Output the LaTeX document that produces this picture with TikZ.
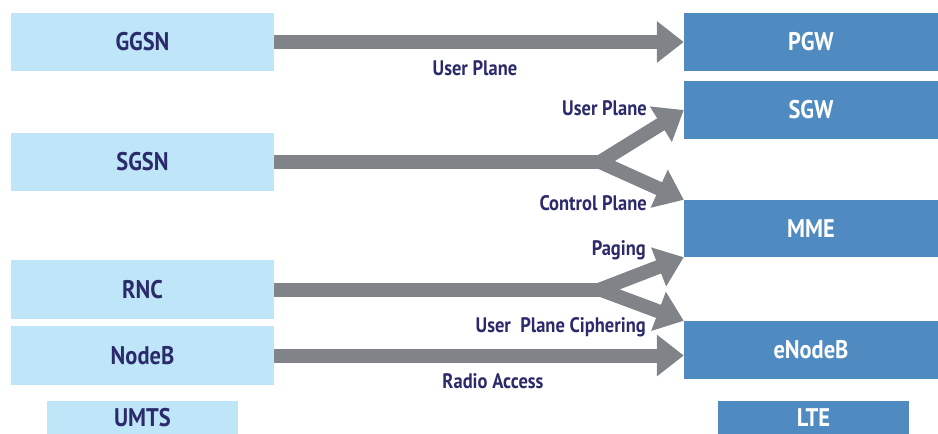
\documentclass[tikz,border=0pt]{standalone}
\usepackage{fontspec}
\setmainfont{PT Sans}[BoldFeatures={FakeStretch=0.88}]
\usetikzlibrary{arrows.meta}
\definecolor{umtsfill}{HTML}{BEE6F8}
\definecolor{ltefill}{HTML}{4F8BC0}
\definecolor{pipe}{HTML}{808489}
\definecolor{ink}{HTML}{2B2A6B}
\tikzset{
  umtsbox/.style={fill=umtsfill, draw=none, inner sep=0pt, minimum width=263pt,
    text=ink, font=\fontsize{25.5}{30}\selectfont\bfseries},
  ltebox/.style={fill=ltefill, draw=none, inner sep=0pt, minimum width=254pt,
    text=white, font=\fontsize{25.5}{30}\selectfont\bfseries},
  pipeline/.style={draw=pipe, line width=14pt,
    -{Triangle[length=27pt,width=40pt]}},
  shaft/.style={draw=pipe, line width=14pt},
  tag/.style={text=ink, inner sep=0pt, font=\fontsize{21}{25}\selectfont\bfseries}
}
\begin{document}
\begin{tikzpicture}[x=1pt,y=-1pt]
\useasboundingbox (0,0) rectangle (938,434);

% UMTS side
\node[umtsbox, minimum height=58pt] (ggsn)  at (142.5,42)    {GGSN};
\node[umtsbox, minimum height=58pt] (sgsn)  at (142.5,162)   {SGSN};
\node[umtsbox, minimum height=59pt] (rnc)   at (142.5,289.5) {RNC};
\node[umtsbox, minimum height=59pt] (nodeb) at (142.5,355.5) {NodeB};
\node[umtsbox, minimum width=191pt, minimum height=34pt] (umts) at (142.5,418) {UMTS};

% LTE side
\node[ltebox, minimum height=58pt] (pgw)    at (811,42)    {PGW};
\node[ltebox, minimum height=58pt] (sgw)    at (811,110)   {SGW};
\node[ltebox, minimum height=57pt] (mme)    at (811,228.5) {MME};
\node[ltebox, minimum height=58pt] (enodeb) at (811,350)   {eNodeB};
\node[ltebox, minimum width=191pt, minimum height=34pt] (lte) at (813.5,418) {LTE};

% fork points
\coordinate (fork1) at (600,162);
\coordinate (fork2) at (600,289.5);

% connectors
\draw[pipeline] (ggsn.east) -- (ggsn.east -| pgw.west);
\draw[shaft] (sgsn.east) -- (fork1);
\draw[pipeline] (fork1) -- (sgw.west);
\draw[pipeline] (fork1) -- (mme.north west);
\draw[shaft] (rnc.east) -- (fork2);
\draw[pipeline] (fork2) -- (mme.south west);
\draw[pipeline] (fork2) -- (enodeb.north west);
\draw[pipeline] (nodeb.east) -- (nodeb.east -| enodeb.west);

% labels
\node[tag] (l1) at (475,68) {User Plane};
\node[tag, anchor=east] (l2) at (647,108) {User Plane};
\node[tag, anchor=east] (l3) at (647,203) {Control Plane};
\node[tag, anchor=east] (l4) at (646,250) {Paging};
\node[tag, anchor=east] (l5) at (646,327) {User\ \ Plane Ciphering};
\node[tag] (l6) at (493,381) {Radio Access};
\end{tikzpicture}
\end{document}
